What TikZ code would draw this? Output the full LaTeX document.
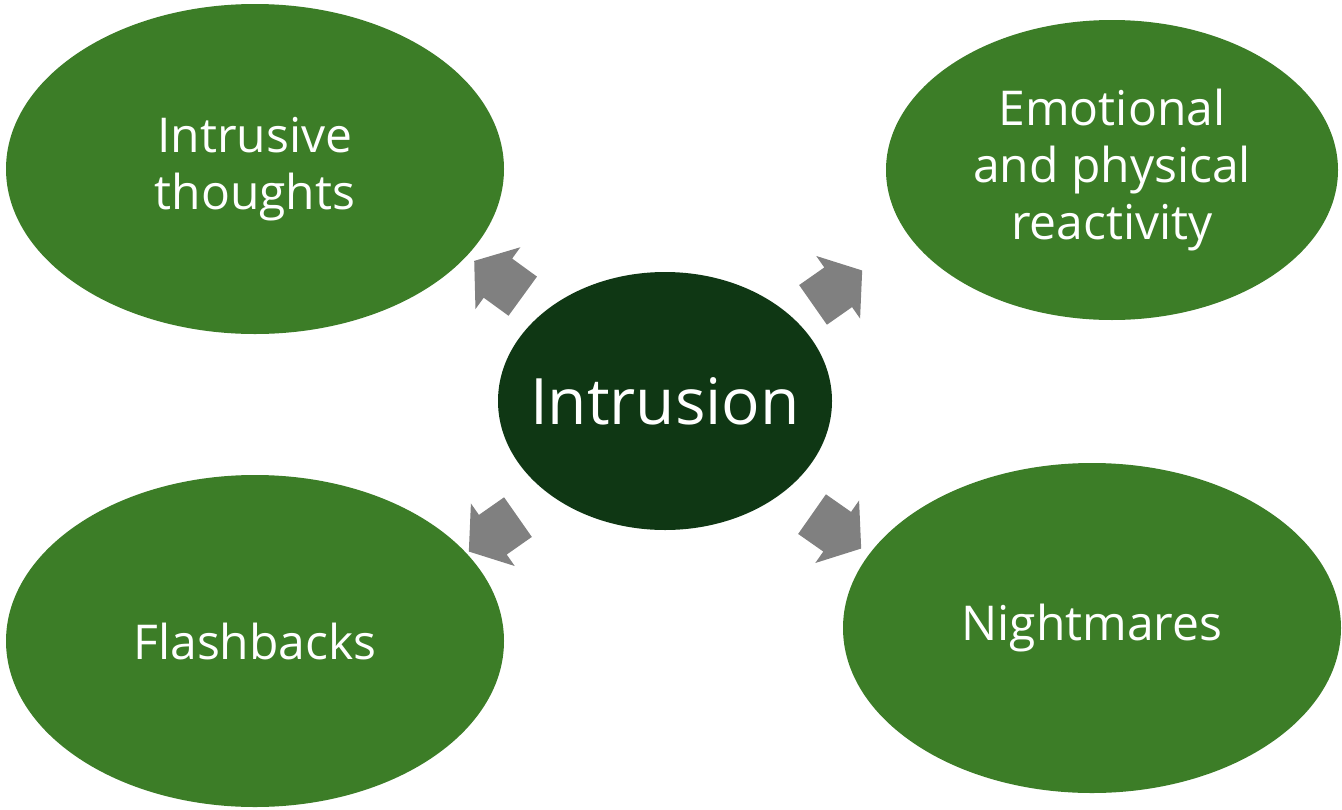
\documentclass[tikz,border=0pt]{standalone}
\usepackage{fontspec}
\setmainfont{Open Sans}
\usetikzlibrary{shapes.geometric, shapes.arrows}
\definecolor{leafgreen}{RGB}{60,125,39}
\definecolor{darkgreen}{RGB}{15,55,20}
\definecolor{arrowgray}{RGB}{128,128,128}
\tikzstyle{Bubble} = [
ellipse, fill=leafgreen, text=white,
align=center, inner sep=0pt,
font=\fontsize{48}{57}\selectfont]
\tikzstyle{Center} = [
ellipse, fill=darkgreen, text=white,
inner sep=-40pt, font=\fontsize{64}{70}\selectfont]
\tikzstyle{Pointer} = [
single arrow, fill=arrowgray, inner xsep=0pt, inner ysep=24pt,
minimum height=60pt, minimum width=76pt,
single arrow head extend=14pt, single arrow tip angle=105]
\begin{document}
\begin{tikzpicture}[x=1pt, y=-1pt]
    \useasboundingbox (0,0) rectangle (1342,809);
    \node (5) [Center, minimum width=334pt, minimum height=258pt] at (665,401) {Intrusion};
    \node (1) [Bubble, minimum width=498pt, minimum height=330pt] at (255,169) {Intrusive\\thoughts};
    \node (2) [Bubble, minimum width=452pt, minimum height=300pt] at (1112,170) {Emotional\\and physical\\reactivity};
    \node (3) [Bubble, minimum width=498pt, minimum height=332pt] at (255,641) {Flashbacks};
    \node (4) [Bubble, minimum width=498pt, minimum height=330pt] at (1092,628) {Nightmares};
    \node (6) [Pointer, rotate=144] at (506,284) {};
    \node (7) [Pointer, rotate=35] at (830,293) {};
    \node (8) [Pointer, rotate=215] at (501,529) {};
    \node (9) [Pointer, rotate=-35] at (829,526) {};
\end{tikzpicture}
\end{document}
